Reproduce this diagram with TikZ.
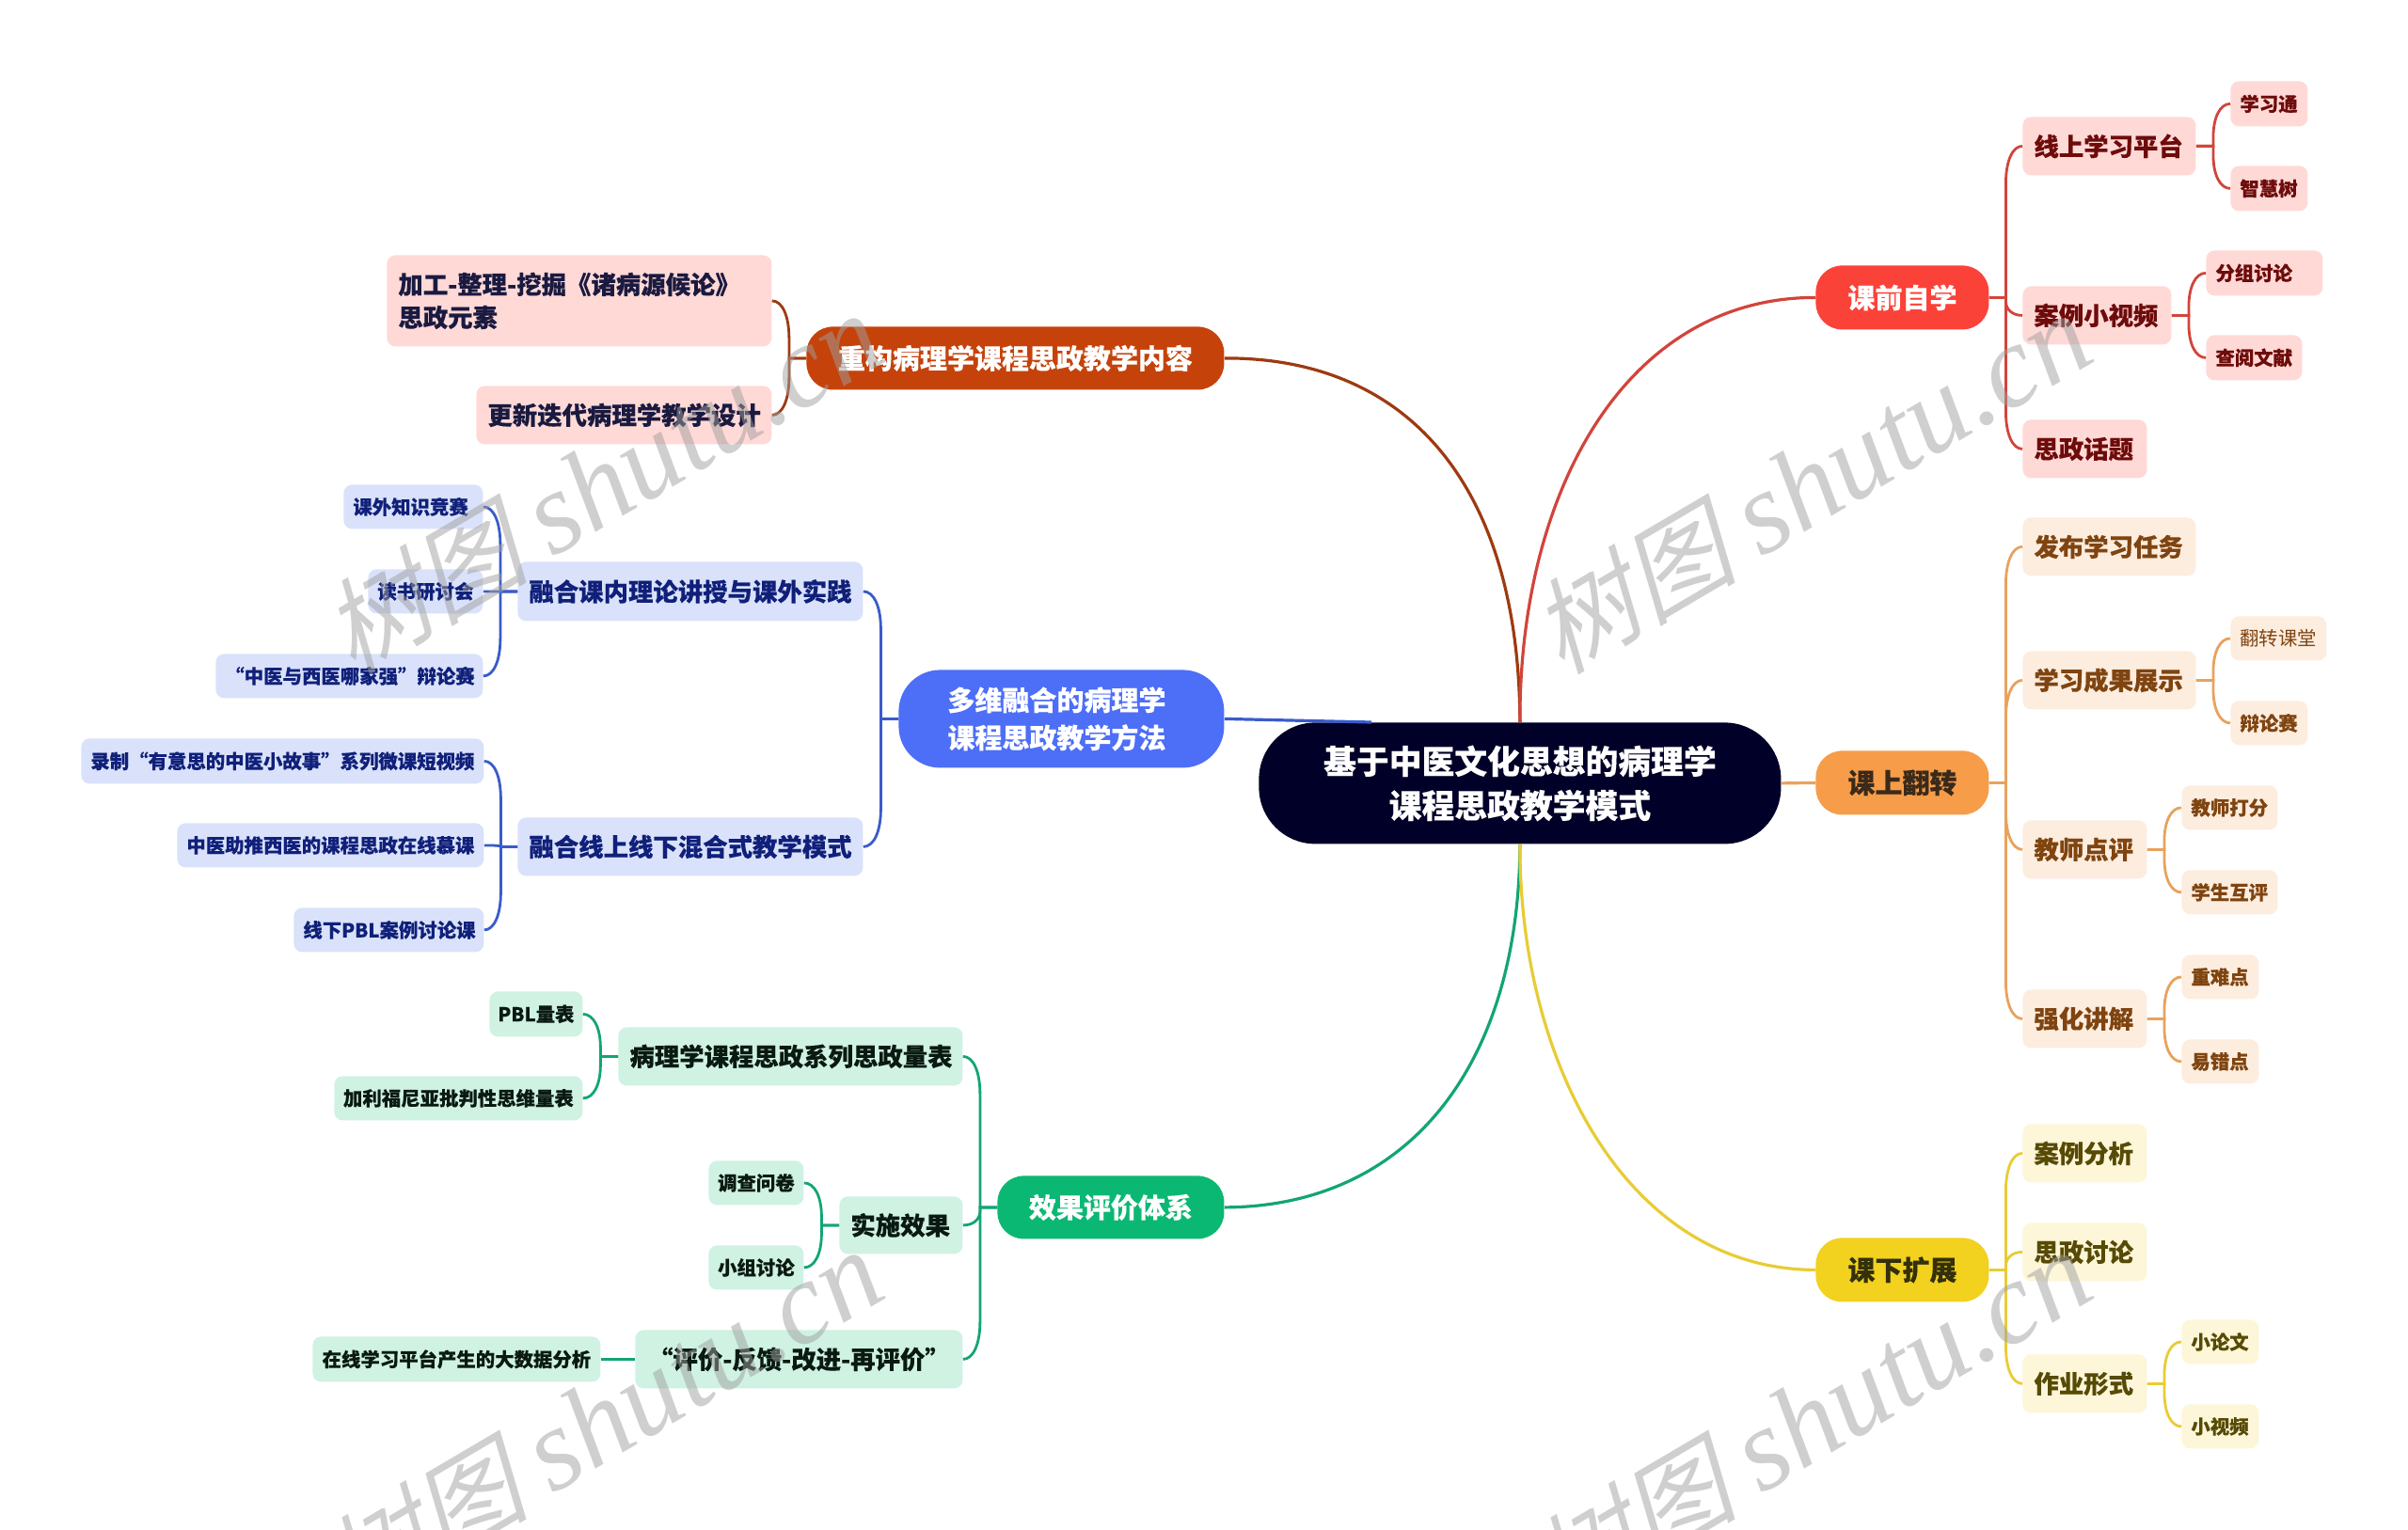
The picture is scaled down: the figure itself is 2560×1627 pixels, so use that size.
\documentclass[tikz,border=0pt]{standalone}
\usepackage{fontspec}
\usetikzlibrary{calc}
\setmainfont{Noto Sans CJK SC}[BoldFeatures={FakeBold=0.25}]
\newfontfamily\wmlat{Liberation Serif}[ItalicFont=* Italic]
\newfontfamily\wmcjk{Noto Sans CJK SC}[FakeSlant=0.25]
\definecolor{rootc}{HTML}{000028}
\definecolor{redP}{HTML}{FB4239}\definecolor{redL}{HTML}{D2443B}\definecolor{redF}{HTML}{FFD9D6}\definecolor{redT}{HTML}{6E0B0B}
\definecolor{orgP}{HTML}{F79C49}\definecolor{orgL}{HTML}{E8A25C}\definecolor{orgF}{HTML}{FDEDDF}\definecolor{orgT}{HTML}{7F4410}\definecolor{orgD}{HTML}{3B2A1A}
\definecolor{yelP}{HTML}{F2D11F}\definecolor{yelL}{HTML}{E8CC34}\definecolor{yelF}{HTML}{FDF6D8}\definecolor{yelT}{HTML}{574A05}\definecolor{yelD}{HTML}{33300A}
\definecolor{bluP}{HTML}{4D6EF7}\definecolor{bluL}{HTML}{3A5BCB}\definecolor{bluF}{HTML}{D9E2FA}\definecolor{bluT}{HTML}{10207A}
\definecolor{grnP}{HTML}{0BB873}\definecolor{grnL}{HTML}{12A573}\definecolor{grnF}{HTML}{CFF2E3}\definecolor{grnT}{HTML}{0A1A12}
\definecolor{rusP}{HTML}{C5430B}\definecolor{rusL}{HTML}{9E3A10}\definecolor{rusT}{HTML}{1A1A40}
\definecolor{wmc}{HTML}{A0A0A0}
\def\curpad{12pt}
\tikzset{
  boxbase/.style={inner sep=0pt,anchor=north west,font=\bfseries},
  rootbox/.style={boxbase,fill=rootc,text=white,rounded corners=30pt,align=center,font=\bfseries\fontsize{17.4}{23.5}\selectfont},
  pillbox/.style={boxbase,rounded corners=14pt,align=center,font=\bfseries\fontsize{14.5}{20}\selectfont},
  subbox/.style={boxbase,rounded corners=4.5pt,font=\bfseries\fontsize{13.2}{17.5}\selectfont,/utils/exec={\def\curpad{12pt}}},
  leafbox/.style={boxbase,rounded corners=4.5pt,font=\bfseries\fontsize{10.2}{14}\selectfont,/utils/exec={\def\curpad{10pt}}},
  red/.style={fill=redF,text=redT},org/.style={fill=orgF,text=orgT},yel/.style={fill=yelF,text=yelT},
  blu/.style={fill=bluF,text=bluT},grn/.style={fill=grnF,text=grnT},rus/.style={fill=redF,text=rusT},
  wire/.style={line width=1.4pt},
  mainwire/.style={line width=1.6pt},
  wmark/.style={text=wmc,opacity=.5,rotate=30.5},
}
% name, x1, y1, x2, y2, styles, text (left aligned, padded)
\newcommand\bx[7]{\node[#6,minimum width={(#4-#2)*0.5pt},minimum height={(#5-#3)*0.5pt},text width={(#4-#2)*0.5pt-\curpad},align=left] (#1) at (#2,#3) {#7};}
\newcommand\bxr[7]{\node[#6,minimum width={(#4-#2)*0.5pt},minimum height={(#5-#3)*0.5pt},text width={(#4-#2)*0.5pt-10pt},align=right] (#1) at (#2,#3) {#7};}
\newcommand\bxc[7]{\node[#6,minimum width={(#4-#2)*0.5pt},minimum height={(#5-#3)*0.5pt},text width={(#4-#2)*0.5pt-4pt},align=center] (#1) at (#2,#3) {#7};}
% from, to, colour
\newcommand\cn[3]{\coordinate (T) at ($(#1)!0.5!(#2 |- #1)$);\coordinate (C) at (T |- #2);
  \path let \p1=($(T)-(C)$),\n1={min(20pt,0.8*abs(\y1))} in coordinate (R) at ($(C)!\n1!(T)$);
  \draw[wire,#3] (#1) -- (T) -- (R) .. controls ($(R)!0.6!(C)$) and ($(C)!0.4!(#2)$) .. (#2);}
\newcommand\wm[3]{\node[wmark] (#1) at (#2,#3) {{\fontsize{55}{60}\selectfont\wmcjk 树图}\hspace{13pt}{\fontsize{62}{70}\selectfont\wmlat\itshape shutu.cn}};}
\begin{document}
\begin{tikzpicture}[x=0.5pt,y=-0.5pt]
\useasboundingbox (0,0) rectangle (2560,1627);
\fill[white] (0,0) rectangle (2560,1627);
% root
\bxc{root}{1338}{768}{1893}{897}{rootbox}{基于中医文化思想的病理学\\课程思政教学模式}
% pills
\bxc{pa}{1930}{282}{2114}{350}{pillbox,fill=redP,text=white}{课前自学}
\bxc{pb}{1930}{798}{2114}{866}{pillbox,fill=orgP,text=orgD}{课上翻转}
\bxc{pc}{1930}{1316}{2114}{1384}{pillbox,fill=yelP,text=yelD}{课下扩展}
\bxc{pd}{857}{347}{1301}{414}{pillbox,fill=rusP,text=white}{重构病理学课程思政教学内容}
\node[boxbase,font=\bfseries\fontsize{14.5}{20}\selectfont,fill=bluP,text=white,minimum width=173pt,minimum height=52pt,rounded corners=22pt,text width=121pt,align=left] (pe) at (955,712) {多维融合的病理学\\课程思政教学方法};
\bxc{pf}{1060}{1250}{1301}{1317}{pillbox,fill=grnP,text=white}{效果评价体系}
% red
\bx{a1}{2150}{124}{2334}{186}{subbox,red}{线上学习平台}
\bx{a2}{2150}{304}{2308}{366}{subbox,red}{案例小视频}
\bx{a3}{2150}{446}{2282}{508}{subbox,red}{思政话题}
\bx{a11}{2371}{86}{2453}{134}{leafbox,red}{学习通}
\bx{a12}{2371}{176}{2453}{224}{leafbox,red}{智慧树}
\bx{a21}{2345}{266}{2469}{314}{leafbox,red}{分组讨论}
\bx{a22}{2345}{356}{2447}{404}{leafbox,red}{查阅文献}
% orange
\bx{b1}{2150}{550}{2334}{612}{subbox,org}{发布学习任务}
\bx{b2}{2150}{692}{2334}{754}{subbox,org}{学习成果展示}
\bx{b3}{2150}{872}{2282}{934}{subbox,org}{教师点评}
\bx{b4}{2150}{1052}{2282}{1114}{subbox,org}{强化讲解}
\bx{b21}{2371}{655}{2473}{702}{leafbox,org,font=\mdseries\fontsize{10.2}{14}\selectfont}{翻转课堂}
\bx{b22}{2371}{745}{2453}{792}{leafbox,org}{辩论赛}
\bx{b31}{2319}{835}{2421}{882}{leafbox,org}{教师打分}
\bx{b32}{2319}{925}{2421}{972}{leafbox,org}{学生互评}
\bx{b41}{2319}{1015}{2401}{1062}{leafbox,org}{重难点}
\bx{b42}{2319}{1105}{2401}{1152}{leafbox,org}{易错点}
% yellow
\bx{c1}{2150}{1195}{2282}{1257}{subbox,yel}{案例分析}
\bx{c2}{2150}{1300}{2282}{1362}{subbox,yel}{思政讨论}
\bx{c3}{2150}{1440}{2282}{1502}{subbox,yel}{作业形式}
\bx{c31}{2319}{1403}{2401}{1450}{leafbox,yel}{小论文}
\bx{c32}{2319}{1493}{2401}{1540}{leafbox,yel}{小视频}
% rust
\bx{d1}{411}{271}{820}{368}{subbox,rus}{加工-整理-挖掘《诸病源候论》\\思政元素}
\bx{d2}{506}{410}{820}{472}{subbox,rus}{更新迭代病理学教学设计}
% blue
\bx{e1}{550}{597}{917}{660}{subbox,blu}{融合课内理论讲授与课外实践}
\bx{e2}{550}{869}{917}{931}{subbox,blu}{融合线上线下混合式教学模式}
\bx{e11}{365}{515}{513}{562}{leafbox,blu}{课外知识竞赛}
\bxr{e12}{391}{605}{513}{652}{leafbox,blu}{读书研讨会}
\bxr{e13}{229}{695}{513}{742}{leafbox,blu}{“中医与西医哪家强”辩论赛}
\bxr{e21}{86}{785}{514}{833}{leafbox,blu}{录制“有意思的中医小故事”系列微课短视频}
\bxr{e22}{188}{875}{514}{922}{leafbox,blu}{中医助推西医的课程思政在线慕课}
\bxr{e23}{312}{965}{514}{1012}{leafbox,blu}{线下PBL案例讨论课}
% green
\bx{f1}{657}{1092}{1023}{1154}{subbox,grn}{病理学课程思政系列思政量表}
\bx{f2}{892}{1272}{1023}{1333}{subbox,grn}{实施效果}
\bxc{f3}{675}{1414}{1023}{1476}{subbox,grn}{“评价-反馈-改进-再评价”}
\bxc{f11}{520}{1054}{619}{1102}{leafbox,grn}{PBL量表}
\bxc{f12}{355}{1144}{619}{1191}{leafbox,grn}{加利福尼亚批判性思维量表}
\bxc{f21}{753}{1234}{854}{1281}{leafbox,grn}{调查问卷}
\bxc{f22}{753}{1324}{854}{1371}{leafbox,grn}{小组讨论}
\bxc{f31}{332}{1421}{638}{1469}{leafbox,grn}{在线学习平台产生的大数据分析}
% main connectors
\coordinate (blueend) at (1458,768);
\draw[mainwire,rusL] (root.north) .. controls (1615,520) and (1500,380) .. (pd.east);
\draw[mainwire,redL] (root.north) .. controls (1615,520) and (1730,316) .. (pa.west);
\draw[mainwire,orgL] (root.east) -- (pb.west);
\draw[mainwire,bluL] (pe.east) -- (blueend);
\draw[mainwire,grnL] (root.south) .. controls (1615,1130) and (1500,1283) .. (pf.east);
\draw[mainwire,yelL] (root.south) .. controls (1615,1130) and (1730,1350) .. (pc.west);
% branches
\cn{pa.east}{a1.west}{redL}\cn{pa.east}{a2.west}{redL}\cn{pa.east}{a3.west}{redL}
\cn{a1.east}{a11.west}{redL}\cn{a1.east}{a12.west}{redL}
\cn{a2.east}{a21.west}{redL}\cn{a2.east}{a22.west}{redL}
\cn{pb.east}{b1.west}{orgL}\cn{pb.east}{b2.west}{orgL}\cn{pb.east}{b3.west}{orgL}\cn{pb.east}{b4.west}{orgL}
\cn{b2.east}{b21.west}{orgL}\cn{b2.east}{b22.west}{orgL}
\cn{b3.east}{b31.west}{orgL}\cn{b3.east}{b32.west}{orgL}
\cn{b4.east}{b41.west}{orgL}\cn{b4.east}{b42.west}{orgL}
\cn{pc.east}{c1.west}{yelL}\cn{pc.east}{c2.west}{yelL}\cn{pc.east}{c3.west}{yelL}
\cn{c3.east}{c31.west}{yelL}\cn{c3.east}{c32.west}{yelL}
\cn{pd.west}{d1.east}{rusL}\cn{pd.west}{d2.east}{rusL}
\cn{pe.west}{e1.east}{bluL}\cn{pe.west}{e2.east}{bluL}
\cn{e1.west}{e11.east}{bluL}\cn{e1.west}{e12.east}{bluL}\cn{e1.west}{e13.east}{bluL}
\cn{e2.west}{e21.east}{bluL}\cn{e2.west}{e22.east}{bluL}\cn{e2.west}{e23.east}{bluL}
\cn{pf.west}{f1.east}{grnL}\cn{pf.west}{f2.east}{grnL}\cn{pf.west}{f3.east}{grnL}
\cn{f1.west}{f11.east}{grnL}\cn{f1.west}{f12.east}{grnL}
\cn{f2.west}{f21.east}{grnL}\cn{f2.west}{f22.east}{grnL}
\draw[wire,grnL] (f3.west) -- (f31.east);
% watermarks
\begin{scope}
\clip (0,0) rectangle (2560,1627);
\wm{w1}{640}{514}
\wm{w2}{1925}{514}
\wm{w3}{640}{1510}
\wm{w4}{1925}{1510}
\end{scope}
\end{tikzpicture}
\end{document}
